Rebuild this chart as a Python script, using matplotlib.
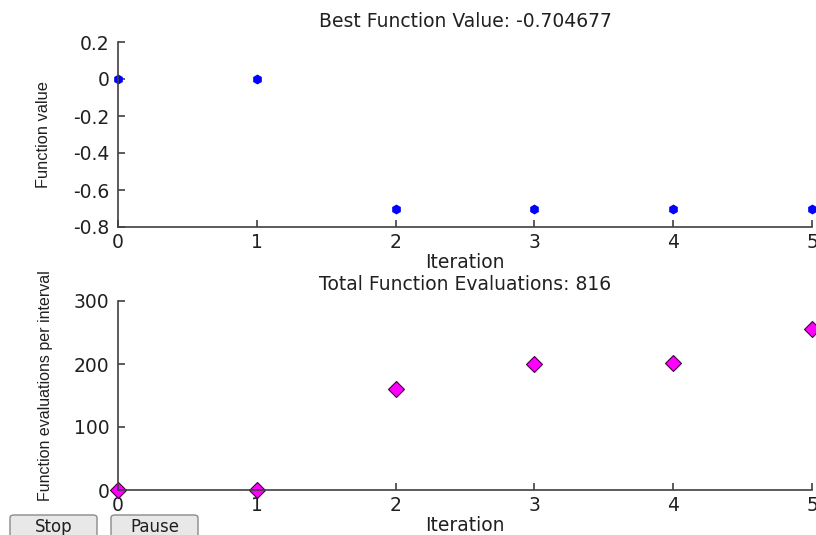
import matplotlib
matplotlib.use('Agg')
import matplotlib.pyplot as plt
from matplotlib.patches import FancyBboxPatch

plt.rcParams['font.family'] = ['DejaVu Sans']

iterations = [0, 1, 2, 3, 4, 5]
best_values = [0.0, 0.0, -0.704677, -0.704677, -0.704677, -0.704677]
evals_per_interval = [0, 0, 160, 200, 201, 255]
best_title = 'Best Function Value: -0.704677'
evals_title = 'Total Function Evaluations: 816'

W, H = 816, 535
fig = plt.figure(figsize=(W / 100, H / 100), dpi=100)

FS = 13.5
YLAB_FONT = ['Liberation Sans', 'DejaVu Sans']


def box(x0, y0, x1, y1):
    # pixel coords (top-left origin) -> figure fraction rect
    return [x0 / W, 1 - y1 / H, (x1 - x0) / W, (y1 - y0) / H]


def style(ax):
    for s in ['top', 'right']:
        ax.spines[s].set_visible(False)
    for s in ['left', 'bottom']:
        ax.spines[s].set_color('#404040')
        ax.spines[s].set_linewidth(1.2)
    ax.tick_params(direction='in', length=5, width=1.2, color='#404040',
                   labelsize=FS, labelcolor='#202020')
    ax.tick_params(axis='y', pad=6)
    ax.tick_params(axis='x', pad=4)
    ax.set_xticks(iterations)
    ax.set_xlabel('Iteration', fontsize=FS, labelpad=1, color='#202020')


# top panel
ax1 = fig.add_axes(box(118, 42, 812, 227))
ax1.plot(iterations, best_values, linestyle='none', marker='h',
         markersize=6, color='#0000ff', clip_on=False)
ax1.set_xlim(0, 5)
ax1.set_ylim(-0.8, 0.2)
ax1.set_yticks([-0.8, -0.6, -0.4, -0.2, 0, 0.2])
ax1.set_yticklabels(['-0.8', '-0.6', '-0.4', '-0.2', '0', '0.2'])
style(ax1)
ax1.set_ylabel('Function value', fontsize=11.8, family=YLAB_FONT, color='#202020')
ax1.yaxis.set_label_coords(-0.097, 0.5)
ax1.set_title(best_title, fontsize=FS, pad=11, color='#202020')

# bottom panel
ax2 = fig.add_axes(box(118, 301, 812, 490))
ax2.plot(iterations, evals_per_interval, linestyle='none', marker='D',
         markersize=8, markerfacecolor='#ff00ff', markeredgecolor='#400040',
         markeredgewidth=0.8, clip_on=False)
ax2.set_xlim(0, 5)
ax2.set_ylim(0, 300)
ax2.set_yticks([0, 100, 200, 300])
style(ax2)
ax2.set_ylabel('Function evaluations per interval', fontsize=11.5,
               family=YLAB_FONT, color='#202020')
ax2.yaxis.set_label_coords(-0.093, 0.55)
ax2.set_title(evals_title, fontsize=FS, pad=8, color='#202020')

# Stop / Pause buttons
for label, x0, x1 in [('Stop', 10, 97), ('Pause', 111, 198)]:
    r = box(x0, 515, x1, 542)
    fig.patches.append(FancyBboxPatch((r[0], r[1]), r[2], r[3],
                                      boxstyle='round,pad=0,rounding_size=0.005',
                                      transform=fig.transFigure,
                                      facecolor='#e8e8e8', edgecolor='#8a8a8a',
                                      linewidth=1))
    fig.text(r[0] + r[2] / 2, 1 - 527 / H, label, ha='center', va='center',
             fontsize=12, color='#202020')

fig.savefig('out.png', dpi=100)
